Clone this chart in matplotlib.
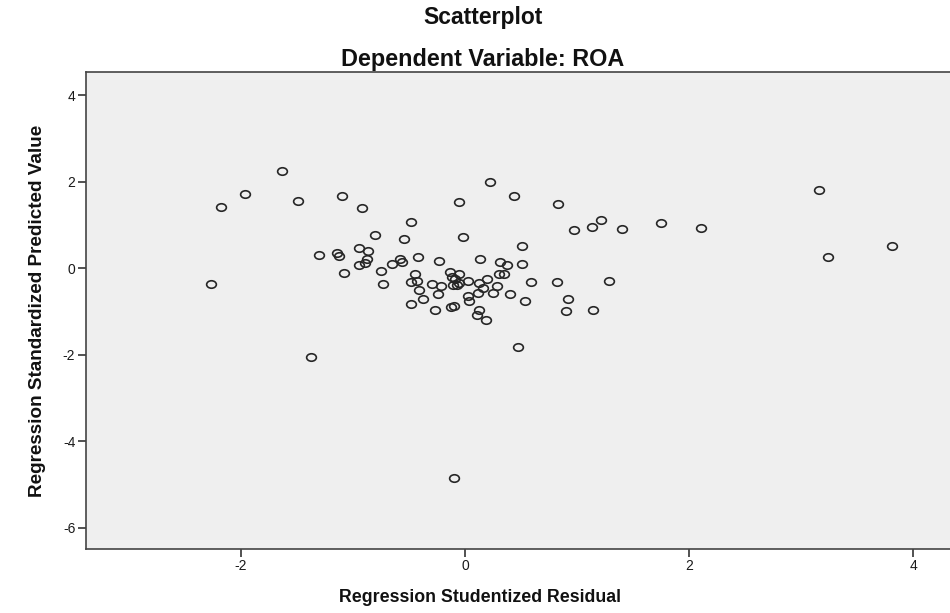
import matplotlib
matplotlib.use("Agg")
import matplotlib.pyplot as plt
from matplotlib.path import Path
from matplotlib.transforms import Affine2D
import numpy as np

# Regression Studentized Residual (x) and Regression Standardized Predicted Value (y)
studentized_residual = [
    -2.265, -2.181, -1.967, -1.634, -1.489, -1.373, -1.304, -1.139, -1.125, -1.096,
    -1.083, -0.947, -0.920, -0.867, -0.871, -0.947, -0.893, -0.801, -0.751, -0.733,
    -0.652, -0.585, -0.559, -0.547, -0.483, -0.418, -0.444, -0.483, -0.429, -0.414,
    -0.380, -0.480, -0.291, -0.218, -0.242, -0.269, -0.235, -0.135, -0.120, -0.090,
    -0.052, -0.108, -0.070, -0.052, -0.057, -0.021, 0.029, 0.023, 0.039, -0.130,
    -0.099, -0.100, 0.120, 0.130, 0.198, 0.164, 0.252, 0.112, 0.127, 0.104,
    0.189, 0.222, 0.345, 0.311, 0.376, 0.287, 0.307, 0.398, 0.439, 0.469,
    0.508, 0.510, 0.537, 0.585, 0.817, 0.826, 0.905, 0.923, 0.969, 1.133,
    1.146, 1.210, 1.282, 1.402, 1.746, 2.103, 3.158, 3.241, 3.810,
]
standardized_predicted = [
    -0.363, 1.417, 1.718, 2.257, 1.563, -2.044, 0.301, 0.365, 0.291, 1.665,
    -0.116, 0.469, 1.401, 0.412, 0.215, 0.088, 0.116, 0.777, -0.062, -0.370,
    0.111, 0.227, 0.150, 0.671, 1.077, 0.261, -0.132, -0.312, -0.294, -0.502,
    -0.698, -0.818, -0.358, -0.409, -0.594, -0.964, 0.176, -0.074, -0.194, -0.254,
    -0.125, -0.386, -0.375, -0.333, 1.533, 0.735, -0.294, -0.640, -0.749, -0.895,
    -0.872, -4.850, -0.328, 0.208, -0.254, -0.455, -0.578, -0.578, -0.953, -1.080,
    -1.195, 2.002, -0.139, 0.157, 0.072, -0.398, -0.139, -0.583, 1.665, -1.827,
    0.523, 0.106, -0.763, -0.324, -0.324, 1.487, -0.994, -0.703, 0.886, 0.955,
    -0.964, 1.124, -0.294, 0.902, 1.054, 0.939, 1.817, 0.268, 0.523,
]
x_ticks = [-2, 0, 2, 4]
y_ticks = [-6, -4, -2, 0, 2, 4]

title_top = "Scatterplot"
title_sub = "Dependent Variable: ROA"
x_label = "Regression Studentized Residual"
y_label = "Regression Standardized Predicted Value"

plt.rcParams['font.family'] = ['Liberation Sans', 'DejaVu Sans']

fig = plt.figure(figsize=(9.5, 6.13), dpi=100)
fig.patch.set_facecolor('white')

# axes extends past the right edge of the figure (cropped like the reference)
ax = fig.add_axes([0.0902, 0.1044, 0.9301, 0.7781])
ax.set_facecolor('#efefef')
ax.set_xlim(-3.386, 4.5)
ax.set_ylim(-6.49, 4.54)

# slightly wide ellipse marker (reference image is horizontally stretched)
circ = Path.unit_circle()
ell = circ.transformed(Affine2D().scale(1.3, 1.0))
ax.plot(studentized_residual, standardized_predicted, linestyle='none',
        marker=ell, markersize=7.0, markerfacecolor='none',
        markeredgecolor='#262626', markeredgewidth=1.2, clip_on=False)

ax.set_xticks(x_ticks)
ax.set_yticks(y_ticks)
ax.set_xticklabels([str(v) for v in x_ticks])
ax.set_yticklabels([str(v) for v in y_ticks])
ax.tick_params(axis='both', direction='out', length=6, width=1.2,
               color='#333333', labelsize=10, labelcolor='#1a1a1a', pad=1.5)

for side in ['left', 'top', 'bottom', 'right']:
    ax.spines[side].set_color('#444444')
    ax.spines[side].set_linewidth(1.2)

fig.text(0.505, 0.026, x_label, ha='center', va='center',
         fontsize=12.8, fontweight='bold', color='#111111')
fig.text(0.039, 0.4935, y_label, rotation=90, ha='center', va='center',
         fontsize=13.6, fontweight='bold', color='#111111')

fig.text(0.508, 0.972, title_top, ha='center', va='center', fontsize=16.5,
         fontweight='bold', color='#111111')
fig.text(0.508, 0.903, title_sub, ha='center', va='center', fontsize=16.8,
         fontweight='bold', color='#111111')

fig.savefig('out.png', dpi=100, facecolor='white')
